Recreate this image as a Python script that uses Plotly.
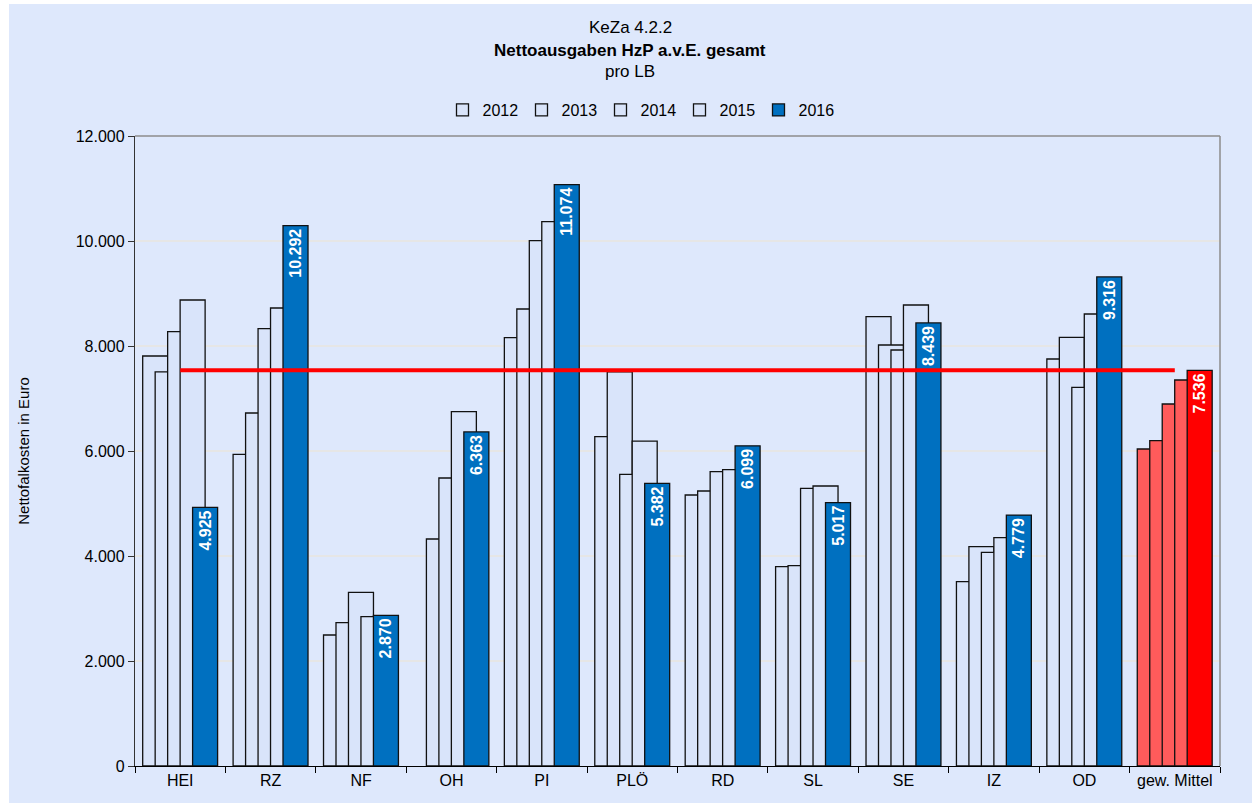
import plotly.graph_objects as go

categories = ["HEI", "RZ", "NF", "OH", "PI", "PLÖ", "RD", "SL", "SE", "IZ", "OD", "gew. Mittel"]
years = ["2012", "2013", "2014", "2015", "2016"]
v2012 = [7810, 5937, 2495, None, 8159, 6273, 5162, 3797, 8559, 3511, 7752, 6038]
v2013 = [7507, 6724, 2730, 4324, 8705, 7510, 5238, 3816, 8019, 4178, 8165, 6196]
v2014 = [8273, 8330, 3308, 5486, 10006, 5556, 5606, 5289, 7924, 4070, 7213, 6895]
v2015 = [8876, 8724, 2844, 6749, 10368, 6190, 5644, 5333, 8781, 4349, 8610, 7352]
v2016 = [4925, 10292, 2870, 6363, 11074, 5382, 6099, 5017, 8439, 4779, 9316, 7536]
mean_value = 7536
y_ticks = [0, 2000, 4000, 6000, 8000, 10000, 12000]

FONT = "Liberation Sans, Arial, sans-serif"
LIGHT = "#D9E4FA"
BLUE = "#0070C0"
LIGHT_RED = "#FF5B5B"
RED = "#FF0000"
BG = "#DEE8FC"

series = [v2012, v2013, v2014, v2015, v2016]
n = len(categories)
bar_w = 0.2765
step = 0.138
start = -0.415


def de(v):
    return f"{v:,.0f}".replace(",", ".")


fig = go.Figure()
for i, (yr, vals) in enumerate(zip(years, series)):
    is_last = i == len(years) - 1
    base_col = BLUE if is_last else LIGHT
    mean_col = RED if is_last else LIGHT_RED
    colors = [base_col] * (n - 1) + [mean_col]
    kw = {}
    if is_last:
        kw = dict(
            text=[de(v) for v in vals],
            textposition="inside",
            insidetextanchor="end",
            textangle=-90,
            textfont=dict(color="white", size=16, family=FONT, weight="bold"),
            constraintext="none",
        )
    fig.add_trace(go.Bar(
        x=categories, y=vals, name=yr, opacity=1,
        width=bar_w, offset=start + i * step,
        marker=dict(color=colors, opacity=1, line=dict(color="#111111", width=1.3)),
        **kw,
    ))

fig.add_trace(go.Scatter(
    x=categories, y=[mean_value] * n, mode="lines",
    line=dict(color=RED, width=4), showlegend=False, hoverinfo="skip",
))

L, R, T, B = 135, 32, 136, 37
W, H = 1252, 803
pw, ph = W - L - R, H - T - B


def px_x(px):
    return (px - L) / pw


def px_y(py):
    return (H - B - py) / ph


shapes = [
    dict(type="rect", xref="paper", yref="paper", layer="below",
         x0=px_x(9), x1=px_x(W + 5), y0=px_y(H + 5), y1=px_y(4),
         fillcolor=BG, line=dict(width=0)),
    dict(type="line", xref="paper", yref="paper", x0=0, x1=1, y0=1, y1=1,
         line=dict(color="#8C8C8C", width=1.5)),
    dict(type="line", xref="paper", yref="paper", x0=1, x1=1, y0=0, y1=1,
         line=dict(color="#8C8C8C", width=1.5)),
]

annotations = [
    dict(text="KeZa 4.2.2", x=px_x(630), y=px_y(28)),
    dict(text="<b>Nettoausgaben HzP a.v.E. gesamt</b>", x=px_x(630), y=px_y(50)),
    dict(text="pro LB", x=px_x(630), y=px_y(72)),
]
for a in annotations:
    a.update(xref="paper", yref="paper", showarrow=False, xanchor="center",
             yanchor="middle", font=dict(size=17, color="black", family=FONT))

fig.update_layout(
    width=W, height=H, autosize=False,
    margin=dict(l=L, r=R, t=T, b=B, pad=0),
    paper_bgcolor="white", plot_bgcolor="white",
    barmode="overlay", separators=",.",
    font=dict(family=FONT, color="black", size=15),
    showlegend=True,
    legend=dict(orientation="h", x=px_x(640), xanchor="center", y=px_y(110),
                yanchor="middle", font=dict(size=16), itemwidth=30,
                entrywidth=34, entrywidthmode="pixels",
                bgcolor="rgba(0,0,0,0)", traceorder="normal"),
    shapes=shapes, annotations=annotations,
    xaxis=dict(type="category", tickson="boundaries", ticks="outside", ticklen=6,
               tickcolor="black", showline=True, linecolor="black", linewidth=1.3,
               showgrid=False, tickfont=dict(size=16), range=[-0.5, n - 0.5]),
    yaxis=dict(range=[0, 12000], tickvals=y_ticks, tickformat=",.0f",
               ticks="outside", ticklen=6, tickcolor="#333333",
               showline=True, linecolor="#333333", linewidth=1.3,
               showgrid=True, gridcolor="#E6E6E6", gridwidth=1.5, zeroline=False,
               tickfont=dict(size=16),
               title=dict(text="Nettofalkosten in Euro", font=dict(size=15), standoff=42)),
)

fig.write_html("out.html")
